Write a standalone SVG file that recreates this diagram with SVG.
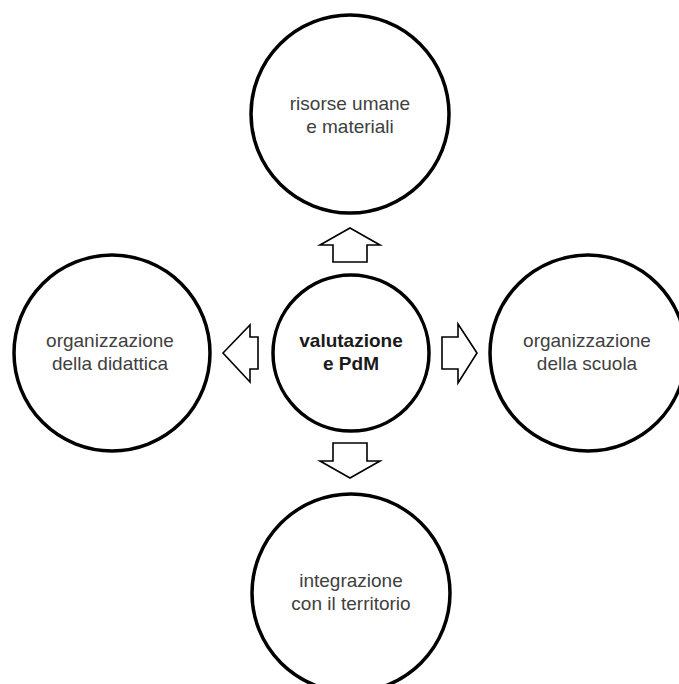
<svg xmlns="http://www.w3.org/2000/svg" width="679" height="684" viewBox="0 0 679 684">
<style>
.c{fill:#fff;stroke:#000;stroke-width:3.5}
.a{fill:#fff;stroke:#000;stroke-width:1.6;stroke-linejoin:miter}
.t{font-family:"Liberation Sans",Arial,sans-serif;font-size:19px;fill:#404040;text-anchor:middle}
.b{font-weight:bold;fill:#1a1a1a}
</style>
<rect width="679" height="684" fill="#fff"/>
<g id="connectors">
<polygon class="a" points="350,228 380,245 367,245 367,262 333,262 333,245 320,245"/>
<polygon class="a" points="350,478 380,461 367,461 367,443 333,443 333,461 320,461"/>
<polygon class="a" points="223,353 250,325 250,337 258,337 258,369 250,369 250,382"/>
<polygon class="a" points="477,353 458,324 458,337 442,337 442,369 458,369 458,383"/>
</g>
<g id="center">
<circle class="c" cx="351" cy="353" r="78"/>
<text class="t b" x="351" y="347">valutazione</text>
<text class="t b" x="351" y="370">e PdM</text>
</g>
<g id="top">
<circle class="c" cx="350" cy="114" r="99"/>
<text class="t" x="350" y="110">risorse umane</text>
<text class="t" x="350" y="133">e materiali</text>
</g>
<g id="left">
<circle class="c" cx="112" cy="353" r="98"/>
<text class="t" x="110" y="347">organizzazione</text>
<text class="t" x="110" y="370">della didattica</text>
</g>
<g id="right">
<circle class="c" cx="588" cy="353" r="98"/>
<text class="t" x="587" y="347">organizzazione</text>
<text class="t" x="587" y="370">della scuola</text>
</g>
<g id="bottom">
<circle class="c" cx="351" cy="593" r="99"/>
<text class="t" x="351" y="587">integrazione</text>
<text class="t" x="351" y="610">con il territorio</text>
</g>
</svg>
